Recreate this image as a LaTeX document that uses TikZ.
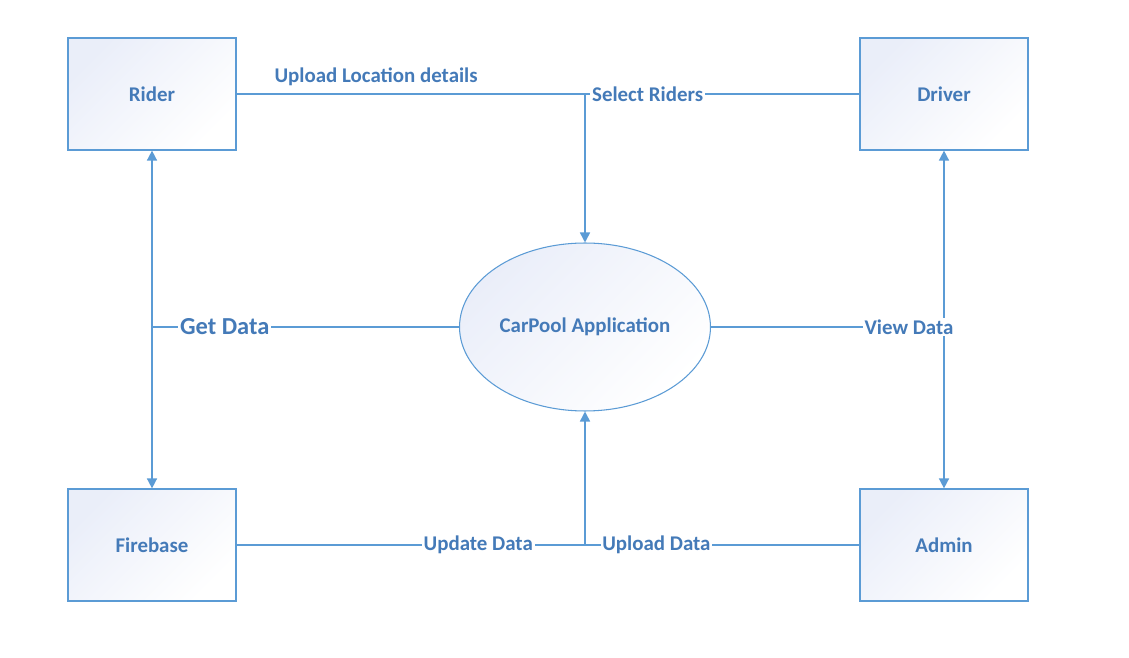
\documentclass[tikz,border=0pt]{standalone}
\usepackage{fontspec}
\setmainfont{Carlito}
\usepackage{tikz}
\usetikzlibrary{calc, positioning, shapes.geometric, arrows.meta}

\definecolor{linecol}{RGB}{91,155,213}
\definecolor{textcol}{RGB}{68,122,184}
\definecolor{boxfill}{RGB}{234,238,249}

\tikzset{
	entity/.style = {rectangle, draw = linecol, line width = 0.7pt, minimum width = 3.36cm, minimum height = 2.24cm, inner sep = 0pt, left color = boxfill, right color = white, shading angle = 45, text = textcol, font = \fontsize{11.9}{14}\selectfont\bfseries},
	process/.style = {ellipse, draw = linecol, line width = 0.6pt, minimum width = 5.02cm, minimum height = 3.36cm, inner sep = 0pt, left color = boxfill, right color = white, shading angle = 45, text = textcol, font = \fontsize{11.9}{14}\selectfont\bfseries},
	flow/.style = {draw = linecol, line width = 0.9pt},
	lbl/.style = {fill = white, inner sep = 1pt, text = textcol, font = \fontsize{11.9}{14}\selectfont\bfseries},
	tip/.style = {-{Triangle[length = 5.7pt, width = 5.7pt]}},
	twotip/.style = {{Triangle[length = 5.7pt, width = 5.7pt]}-{Triangle[length = 5.7pt, width = 5.7pt]}}
}

\begin{document}
	\begin{tikzpicture}[x = 0.02cm, y = -0.02cm]
		\useasboundingbox (0,0) rectangle (1129,658);
		
		\node [entity] (rider) at (152,94) {Rider};
		\node [entity] (driver) at (944,94) {Driver};
		\node [entity] (firebase) at (152,545) {Firebase};
		\node [entity] (admin) at (944,545) {Admin};
		\node [process] (app) at (585,327) {CarPool Application};
		
		\coordinate (top join) at (app.north |- rider.east);
		\coordinate (bottom join) at (app.south |- firebase.east);
		\coordinate (left join) at (rider.south |- app.west);
		\coordinate (right join) at (driver.south |- app.east);
		
		\begin{scope}[flow, twotip]
			\draw (rider.south) -- (firebase.north);
			\draw (driver.south) -- (admin.north);
		\end{scope}
		
		\begin{scope}[flow, tip]
			\draw (top join) -- (app.north);
			\draw (bottom join) -- (app.south);
		\end{scope}
		
		\begin{scope}[flow]
			\draw (rider.east) -- node [lbl, pos = 0.224, above = 3pt, fill = none] {Upload Location details} node [lbl, pos = 0.66] {Select Riders} (driver.west);
			\draw (firebase.east) -- node [lbl, pos = 0.388] {Update Data} node [lbl, pos = 0.674] {Upload Data} (admin.west);
			\draw (left join) -- node [lbl, pos = 0.237, font = \fontsize{13.9}{16}\selectfont\bfseries] {Get Data} (app.west);
			\draw (app.east) -- node [lbl, pos = 0.85] {View Data} (right join);
		\end{scope}
	\end{tikzpicture}
\end{document}
